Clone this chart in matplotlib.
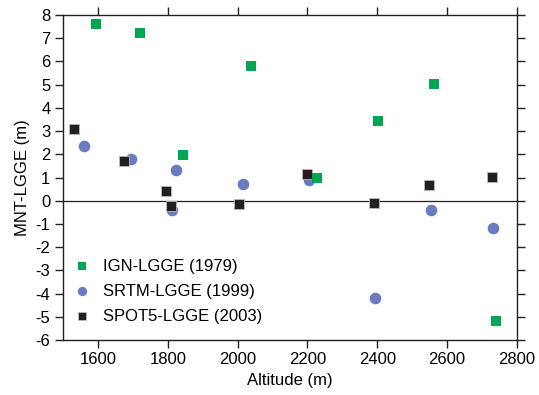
import matplotlib
matplotlib.use("Agg")
import matplotlib.pyplot as plt

plt.rcParams['font.family'] = ['Liberation Sans', 'DejaVu Sans']
plt.rcParams['axes.unicode_minus'] = False

# IGN-LGGE (1979)
ign_alt = [1595, 1720, 2037, 1843, 2227, 2401, 2561, 2740]
ign_diff = [7.6, 7.23, 5.82, 1.98, 0.99, 3.45, 5.03, -5.17]

# SRTM-LGGE (1999)
srtm_alt = [1559, 1695, 1823, 2016, 1812, 2205, 2394, 2553, 2732]
srtm_diff = [2.37, 1.80, 1.32, 0.72, -0.40, 0.88, -4.18, -0.40, -1.18]

# SPOT5-LGGE (2003)
spot_alt = [1531, 1676, 1796, 1808, 2004, 2200, 2391, 2549, 2727]
spot_diff = [3.10, 1.72, 0.40, -0.22, -0.14, 1.16, -0.11, 0.68, 1.03]

fig = plt.figure(figsize=(5.39, 3.95), dpi=100)
ax = fig.add_axes([63/539, 1-340/395, (517-63)/539, (340-15)/395])

ax.axhline(0, color='#231f20', lw=0.9, zorder=1)

ax.scatter(ign_alt, ign_diff, marker='s', s=42, color='#00a651', lw=0,
           label='IGN-LGGE (1979)', zorder=3)
ax.scatter(srtm_alt, srtm_diff, marker='o', s=70, color='#6a7bc0', lw=0,
           label='SRTM-LGGE (1999)', zorder=2)
ax.scatter(spot_alt, spot_diff, marker='s', s=62, color='#231f20',
           edgecolor='#bbbbbb', lw=0.6, label='SPOT5-LGGE (2003)', zorder=2)

ax.set_xlim(1500, 2800)
ax.set_ylim(-6, 8)
ax.set_xticks(range(1600, 2801, 200))
ax.set_yticks(range(-6, 9))

ax.tick_params(direction='out', length=6, width=1, labelsize=12,
               top=True, right=True, labeltop=False, labelright=False,
               color='#231f20', pad=3)
for s in ax.spines.values():
    s.set_linewidth(1)
    s.set_color('#231f20')

ax.set_xlabel('Altitude (m)', fontsize=12, labelpad=4)
ax.set_ylabel('MNT-LGGE (m)', fontsize=12, labelpad=4)

leg = ax.legend(loc='upper left', bbox_to_anchor=(67/539, 1-252/395),
                bbox_transform=fig.transFigure, frameon=False, fontsize=12,
                handlelength=1.0, handletextpad=0.75, labelspacing=0.6,
                borderaxespad=0, markerscale=0.8)

fig.savefig('out.png', dpi=100)
